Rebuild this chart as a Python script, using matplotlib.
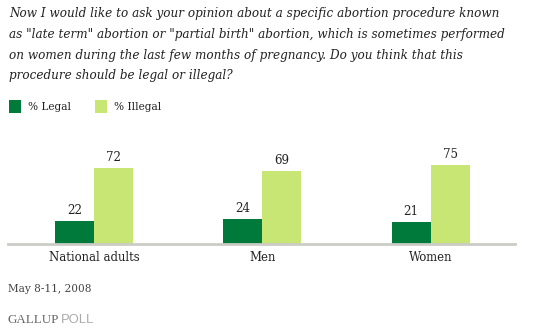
import matplotlib
matplotlib.use("Agg")
import matplotlib.pyplot as plt
from matplotlib.patches import Rectangle

categories = ["National adults", "Men", "Women"]
legal = [22, 24, 21]
illegal = [72, 69, 75]
series_names = ["% Legal", "% Illegal"]

question = ("Now I would like to ask your opinion about a specific abortion procedure known\n"
            "as \"late term\" abortion or \"partial birth\" abortion, which is sometimes performed\n"
            "on women during the last few months of pregnancy. Do you think that this\n"
            "procedure should be legal or illegal?")
date_text = "May 8-11, 2008"

DARK = "#007A3A"
LIGHT = "#C8E674"
TEXT = "#222222"
SERIF = ["DejaVu Serif"]

W, H = 535, 334
fig = plt.figure(figsize=(W / 100, H / 100), dpi=100)
fig.patch.set_facecolor("white")

def fx(px):
    return px / W

def fy(py):
    return 1 - py / H

# question text
fig.text(fx(9), fy(7), question, ha="left", va="top", fontsize=8.65,
         family=SERIF, style="italic", color=TEXT, linespacing=1.78)

# legend
fig.patches.append(Rectangle((fx(9), fy(113)), 12 / W, 13 / H, transform=fig.transFigure,
                             facecolor=DARK, edgecolor="none"))
fig.text(fx(28), fy(107), series_names[0], ha="left", va="center", fontsize=7.6,
         family=SERIF, color=TEXT)
fig.patches.append(Rectangle((fx(95), fy(113)), 12 / W, 13 / H, transform=fig.transFigure,
                             facecolor=LIGHT, edgecolor="none"))
fig.text(fx(114), fy(107), series_names[1], ha="left", va="center", fontsize=7.6,
         family=SERIF, color=TEXT)

# bar chart area
ax_left, ax_right, ax_base, ax_top = 8, 515, 244, 140
ax = fig.add_axes([fx(ax_left), fy(ax_base), (ax_right - ax_left) / W, (ax_base - ax_top) / H])
px_per_unit = 1.06
ax.set_ylim(0, (ax_base - ax_top) / px_per_unit)
ax.set_xlim(-0.51, 2.5)

x = range(len(categories))
bw = 0.232
b1 = ax.bar([i - bw / 2 for i in x], legal, width=bw, color=DARK, edgecolor="none")
b2 = ax.bar([i + bw / 2 for i in x], illegal, width=bw, color=LIGHT, edgecolor="none")
for bars, vals in ((b1, legal), (b2, illegal)):
    for rect, v in zip(bars, vals):
        ax.annotate(str(v), (rect.get_x() + rect.get_width() / 2, v), xytext=(0, 2.5),
                    textcoords="offset points", ha="center", va="bottom",
                    fontsize=8.6, family=SERIF, color=TEXT)

for s in ("top", "right", "left"):
    ax.spines[s].set_visible(False)
ax.spines["bottom"].set_color("#CCCCC6")
ax.spines["bottom"].set_linewidth(2)
ax.set_yticks([])
ax.set_xticks(list(x))
ax.set_xticklabels(categories, family=SERIF, fontsize=8.4, color=TEXT)
ax.tick_params(axis="x", length=0, pad=5)
ax.patch.set_alpha(0)

# footer
fig.text(fx(8), fy(289), date_text, ha="left", va="center", fontsize=7.6,
         family=SERIF, color="#444444")
g = fig.text(fx(7), fy(320), "GALLUP", ha="left", va="center", fontsize=9.4,
             family=["Liberation Serif"], color="#666666")
fig.canvas.draw()
bb = g.get_window_extent()
fig.text(bb.x1 / W + 2 / W, fy(320), "POLL", ha="left", va="center", fontsize=9.4,
         family=["Liberation Sans"], color="#AAAAAA")

fig.savefig("out.png", dpi=100, facecolor="white")
